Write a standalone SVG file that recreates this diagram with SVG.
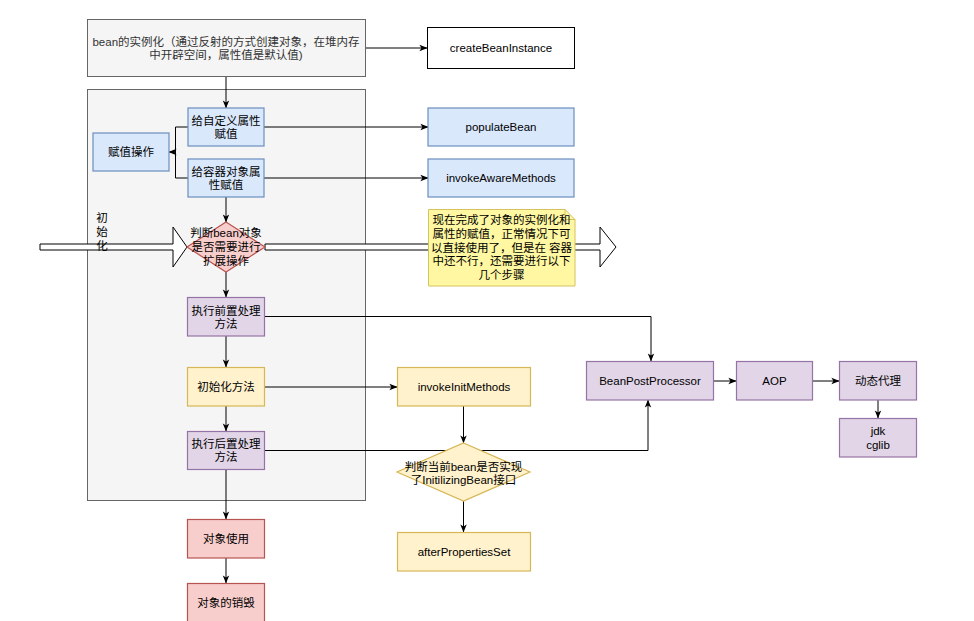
<svg xmlns="http://www.w3.org/2000/svg" width="974" height="621" viewBox="0 0 974 621">
<style>
text{font-family:"Liberation Sans","Noto Sans CJK SC",sans-serif;font-size:11.5px;fill:#000;text-anchor:middle;dominant-baseline:central}
.grey{fill:#f5f5f5;stroke:#666666;stroke-width:1}
.blue{fill:#dae8fc;stroke:#6c8ebf;stroke-width:1.2}
.purple{fill:#e1d5e7;stroke:#9673a6;stroke-width:1.2}
.yellow{fill:#fff2cc;stroke:#d6b656;stroke-width:1.2}
.red{fill:#f8cecc;stroke:#b85450;stroke-width:1.2}
.plain{fill:#ffffff;stroke:#000000;stroke-width:1}
.e{fill:none;stroke:#000;stroke-width:1}
.ea{fill:none;stroke:#000;stroke-width:1;marker-end:url(#arr)}
.hollow{fill:#ffffff;stroke:#000;stroke-width:1}
</style>
<defs>
<marker id="arr" viewBox="0 0 10 10" refX="9.5" refY="5" markerWidth="8" markerHeight="8" orient="auto" markerUnits="userSpaceOnUse">
<path d="M0,1 L10,5 L0,9 L2.5,5 Z" fill="#000" stroke="none"/>
</marker>
</defs>
<rect width="974" height="621" fill="#ffffff"/>

<g id="container"><rect class="grey" x="87.5" y="89.5" width="278" height="411"/></g>

<g id="bigArrows">
<polygon class="hollow" points="40,244 173,244 173,227 187,247 173,267 173,250 40,250"/>
<polygon class="hollow" points="265,244 600,244 600,227 616,247 600,267 600,250 265,250"/>
</g>

<g id="connectors">
<path class="ea" d="M226,76 V108"/>
<path class="ea" d="M365,48 H427"/>
<path class="ea" d="M264,127 H428"/>
<path class="ea" d="M264,178 H428"/>
<path class="ea" d="M188,127 H175.5 V152 H169"/>
<path class="e" d="M188,178 H175.5 V152"/>
<path class="ea" d="M226,197 V222"/>
<path class="ea" d="M226,272 V297"/>
<path class="ea" d="M265,316.5 H651 V361"/>
<path class="ea" d="M226,336 V367"/>
<path class="ea" d="M265,387 H397"/>
<path class="ea" d="M226,406 V431"/>
<path class="ea" d="M265,450.5 H648 V400"/>
<path class="ea" d="M226,469 V519"/>
<path class="ea" d="M226,558 V583"/>
<path class="ea" d="M463.5,406 V443"/>
<path class="ea" d="M463.5,501 V532"/>
<path class="ea" d="M714,381 H736"/>
<path class="ea" d="M813,381 H839"/>
<path class="ea" d="M878,400 V418"/>
</g>

<g id="instantiate">
<rect class="grey" x="87.5" y="19.5" width="278" height="57"/>
<text x="226" y="41.5" style="fill:#333333">bean的实例化（通过反射的方式创建对象，在堆内存</text>
<text x="226" y="55" style="fill:#333333">中开辟空间，属性值是默认值)</text>
</g>
<g id="createBeanInstance">
<rect class="plain" x="427.5" y="27.5" width="147" height="41"/>
<text x="501" y="48">createBeanInstance</text>
</g>
<g id="setCustom">
<rect class="blue" x="188" y="108" width="76" height="38"/>
<text x="226" y="120.5">给自定义属性</text>
<text x="226" y="134">赋值</text>
</g>
<g id="setContainer">
<rect class="blue" x="188" y="159" width="76" height="38"/>
<text x="226" y="171.5">给容器对象属</text>
<text x="226" y="185">性赋值</text>
</g>
<g id="assign">
<rect class="blue" x="93" y="133" width="76" height="38"/>
<text x="131" y="152">赋值操作</text>
</g>
<g id="populateBean">
<rect class="blue" x="428" y="108" width="146" height="38"/>
<text x="501" y="127">populateBean</text>
</g>
<g id="invokeAwareMethods">
<rect class="blue" x="428" y="159" width="146" height="38"/>
<text x="501" y="178">invokeAwareMethods</text>
</g>
<g id="judgeExtend">
<polygon class="red" points="226,222 265,247 226,272 187,247"/>
<text x="226" y="233">判断bean对象</text>
<text x="226" y="247">是否需要进行</text>
<text x="226" y="261">扩展操作</text>
</g>
<g id="initLabel">
<text x="102" y="218">初</text>
<text x="102" y="232">始</text>
<text x="102" y="246">化</text>
</g>
<g id="note">
<path d="M428.5,209.5 H565 L575,219.5 V286 H428.5 Z" fill="#fff7a1" stroke="#d6c25e" stroke-width="1"/>
<path d="M565,209.5 V219.5 H575" fill="none" stroke="#d6c25e" stroke-width="1"/>
<text x="501.5" y="220">现在完成了对象的实例化和</text>
<text x="501.5" y="233.75">属性的赋值，正常情况下可</text>
<text x="501.5" y="247.5">以直接使用了，但是在 容器</text>
<text x="501.5" y="261.25">中还不行，还需要进行以下</text>
<text x="501.5" y="275">几个步骤</text>
</g>
<g id="beforeProcess">
<rect class="purple" x="187.5" y="297.5" width="77" height="38.5"/>
<text x="226" y="310.5">执行前置处理</text>
<text x="226" y="324">方法</text>
</g>
<g id="initMethod">
<rect class="yellow" x="187.5" y="367.5" width="77" height="38.5"/>
<text x="226" y="387">初始化方法</text>
</g>
<g id="afterProcess">
<rect class="purple" x="187.5" y="431.5" width="77" height="38"/>
<text x="226" y="443.5">执行后置处理</text>
<text x="226" y="457">方法</text>
</g>
<g id="invokeInitMethods">
<rect class="yellow" x="397.5" y="367.5" width="133" height="38.5"/>
<text x="464" y="387">invokeInitMethods</text>
</g>
<g id="judgeInit">
<polygon class="yellow" points="463.5,443 530,472 463.5,501 397,472"/>
<text x="463.5" y="466.5">判断当前bean是否实现</text>
<text x="463.5" y="480">了InitilizingBean接口</text>
</g>
<g id="afterPropertiesSet">
<rect class="yellow" x="397.5" y="532.5" width="133" height="38.5"/>
<text x="464" y="552">afterPropertiesSet</text>
</g>
<g id="useObject">
<rect class="red" x="187.5" y="519.5" width="77" height="38.5"/>
<text x="226" y="539">对象使用</text>
</g>
<g id="destroyObject">
<rect class="red" x="187.5" y="583.5" width="77" height="39"/>
<text x="226" y="603">对象的销毁</text>
</g>
<g id="beanPostProcessor">
<rect class="purple" x="586.5" y="361.5" width="127" height="38.5"/>
<text x="650" y="381">BeanPostProcessor</text>
</g>
<g id="aop">
<rect class="purple" x="736.5" y="361.5" width="76" height="38.5"/>
<text x="774.5" y="381">AOP</text>
</g>
<g id="dynamicProxy">
<rect class="purple" x="839.5" y="361.5" width="77" height="38.5"/>
<text x="878" y="381">动态代理</text>
</g>
<g id="jdkCglib">
<rect class="purple" x="839.5" y="418.5" width="77" height="38.5"/>
<text x="878" y="431">jdk</text>
<text x="878" y="444.5">cglib</text>
</g>
</svg>
